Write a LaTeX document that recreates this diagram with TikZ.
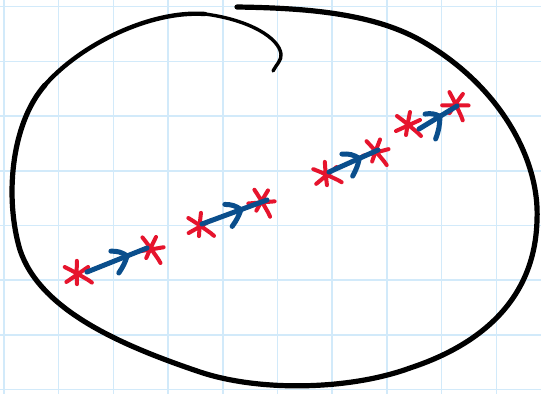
\documentclass[tikz,border=0pt]{standalone}
\usetikzlibrary{calc}
\definecolor{gridc}{RGB}{210,234,250}
\definecolor{xred}{RGB}{230,20,45}
\definecolor{ablue}{RGB}{10,78,140}
\tikzset{
  gridline/.style={draw=gridc, line width=1.5pt},
  loopline/.style={draw=black, line width=5.2pt, line cap=round, line join=round},
  midline/.style={draw=black, line width=4.4pt, line cap=round, line join=round},
  hookline/.style={draw=black, line width=3.4pt, line cap=round, line join=round},
  xmark/.pic={\draw[xred, line width=4pt, line cap=round]
      (-11,-8) .. controls (-3,-2) .. (10,9)
      (-12,7) .. controls (0,1) .. (12,-4)
      (2,-12) .. controls (0,-2) .. (-2,11)
      (10,9) -- (13,12);},
  arrowline/.style={draw=ablue, line width=5pt, line cap=round},
  chevron/.style={draw=ablue, line width=5pt, line cap=round, line join=round}
}
\begin{document}
\begin{tikzpicture}[x=1pt,y=-1pt]
\useasboundingbox (0,0) rectangle (541,394);
\fill[white] (0,0) rectangle (541,394);
% grid
\foreach \i in {0,...,9} \draw[gridline] ({4+54.7*\i},0) -- ({4+54.7*\i},394);
\foreach \j in {0,...,7} \draw[gridline] (0,{6.7+54.7*\j}) -- (541,{6.7+54.7*\j});
% loop: hook, upper-left arc, rest
\draw[hookline] (273,71) .. controls (276,65) and (282,60) .. (281,54)
  .. controls (279,38) and (250,20) .. (205,14);
\draw[midline] (205,14) .. controls (150,10) and (80,45) .. (45,85);
\draw[loopline] (45,85) .. controls (10,125) and (5,200) .. (20,250)
  .. controls (40,310) and (120,345) .. (200,372)
  .. controls (260,392) and (350,390) .. (410,368)
  .. controls (480,345) and (535,300) .. (537,220)
  .. controls (540,160) and (500,85) .. (420,40)
  .. controls (370,12) and (300,8) .. (237,7);
% points
\coordinate (c1l) at (77,273); \coordinate (c1r) at (151,248);
\coordinate (c2l) at (200,225); \coordinate (c2r) at (262,201);
\coordinate (c3l) at (326,174); \coordinate (c3r) at (376,151);
\coordinate (c4l) at (408,124); \coordinate (c4r) at (456,104);
\coordinate (b1s) at (87,272); \coordinate (b1e) at (147,248);
\coordinate (b2s) at (202,224); \coordinate (b2e) at (267,200);
\coordinate (b3s) at (329,172); \coordinate (b3e) at (378,150);
\coordinate (b4s) at (419,129); \coordinate (b4e) at (457,106);
% crosses
\pic[rotate=10] at (c1l) {xmark};
\pic[rotate=-15] at (c1r) {xmark};
\pic[rotate=5] at (c2l) {xmark};
\pic[rotate=-20] at (c2r) {xmark};
\pic[rotate=15] at (c3l) {xmark};
\pic[rotate=-10] at (c3r) {xmark};
\pic[rotate=0] at (c4l) {xmark};
\pic[rotate=-25] at (c4r) {xmark};
% arrows
\draw[arrowline] (b1s) -- (b1e);
\draw[arrowline] (b2s) -- (b2e);
\draw[arrowline] (b3s) -- (b3e);
\draw[arrowline] (b4s) -- (b4e);
% chevrons
\coordinate (t1) at ($(b1s)!0.67!(b1e)$);
\coordinate (t2) at ($(b2s)!0.6!(b2e)$);
\coordinate (t3) at ($(b3s)!0.62!(b3e)$);
\coordinate (t4) at ($(b4s)!0.55!(b4e)$);
\draw[chevron] ($(t1)!17pt!-38:(b1s)$) to[bend left=18] (t1) to[bend left=8] ($(t1)!19pt!42:(b1s)$);
\draw[chevron] ($(t2)!17pt!-38:(b2s)$) to[bend left=18] (t2) to[bend left=8] ($(t2)!19pt!42:(b2s)$);
\draw[chevron] ($(t3)!18pt!-38:(b3s)$) to[bend left=18] (t3) to[bend left=8] ($(t3)!19pt!45:(b3s)$);
\draw[chevron] ($(t4)!15pt!-40:(b4s)$) to[bend left=18] (t4) to[bend left=10] ($(t4)!23pt!48:(b4s)$);
\end{tikzpicture}
\end{document}
